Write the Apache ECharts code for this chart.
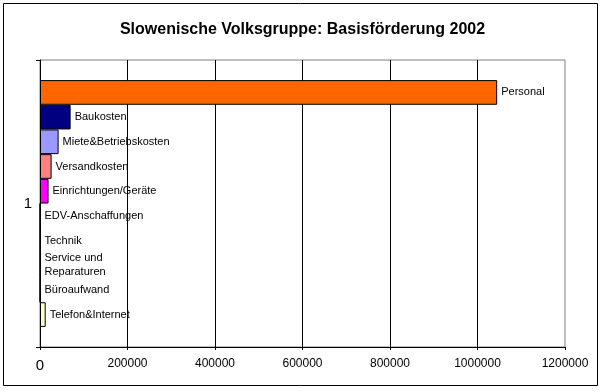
<!DOCTYPE html>
<html><head><meta charset="utf-8">
<script src="https://cdn.jsdelivr.net/npm/echarts@6/dist/echarts.min.js"></script>
<style>html,body{margin:0;padding:0;background:#fff}#c{width:605px;height:392px}</style>
</head><body><div id="c"></div>
<script>
const title = 'Slowenische Volksgruppe: Basisförderung 2002';
const categories = ['1'];
const seriesNames = ['Personal','Baukosten','Miete&Betriebskosten','Versandkosten','Einrichtungen/Geräte','EDV-Anschaffungen','Technik','Service und Reparaturen','Büroaufwand','Telefon&Internet'];
const seriesValues = [1045000, 70000, 42500, 26500, 19500, 0, 0, 0, 0, 13000];
const seriesColors = ['#FF6600','#000080','#9999FF','#FF8080','#FF00FF','#CCFFFF','#800080','#800000','#008080','#FFFFCC'];
const xTicks = [0, 200000, 400000, 600000, 800000, 1000000, 1200000];

const font = '"Liberation Sans", Arial, sans-serif';
const chart = echarts.init(document.getElementById('c'));
chart.setOption({
  animation: false,
  title: { text: title, left: 'center', top: 17, textStyle: { fontFamily: font, fontSize: 16, fontWeight: 'bold', color: '#000' } },
  graphic: [{ type: 'rect', shape: { x: 3.5, y: 3.5, width: 594, height: 382 }, style: { fill: 'none', stroke: '#000', lineWidth: 1 }, silent: true }],
  grid: { left: 40, right: 40, top: 60, bottom: 45, show: true, borderColor: '#808080', borderWidth: 1, backgroundColor: '#fff' },
  xAxis: {
    type: 'value', min: xTicks[0], max: xTicks[xTicks.length - 1], interval: xTicks[1] - xTicks[0],
    axisLine: { show: true, lineStyle: { color: '#000' } },
    axisTick: { show: true, length: 3, lineStyle: { color: '#000' } },
    splitLine: { show: true, showMaxLine: false, lineStyle: { color: '#000', width: 1 } },
    axisLabel: {
      fontFamily: font, fontSize: 12, color: '#000', margin: 11,
      formatter: v => v === 0 ? '{z|0}' : String(v),
      rich: { z: { fontFamily: font, fontSize: 15, color: '#000' } }
    }
  },
  yAxis: {
    type: 'category', data: categories, inverse: true,
    axisLine: { show: true, lineStyle: { color: '#000' } },
    axisTick: { show: true, length: 4, lineStyle: { color: '#000' } },
    axisLabel: { fontFamily: font, fontSize: 15, color: '#000', margin: 8 }
  },
  series: seriesNames.map((name, i) => ({
    type: 'bar', name: name, data: [seriesValues[i]],
    barGap: '0%', barCategoryGap: '14%',
    itemStyle: { color: seriesColors[i], borderColor: '#000', borderWidth: 1 },
    label: {
      show: true, position: 'right', distance: 4, fontFamily: font, fontSize: 11, color: '#000', lineHeight: 14,
      formatter: () => name.replace('Service und ', 'Service und\n')
    }
  }))
});
</script></body></html>
